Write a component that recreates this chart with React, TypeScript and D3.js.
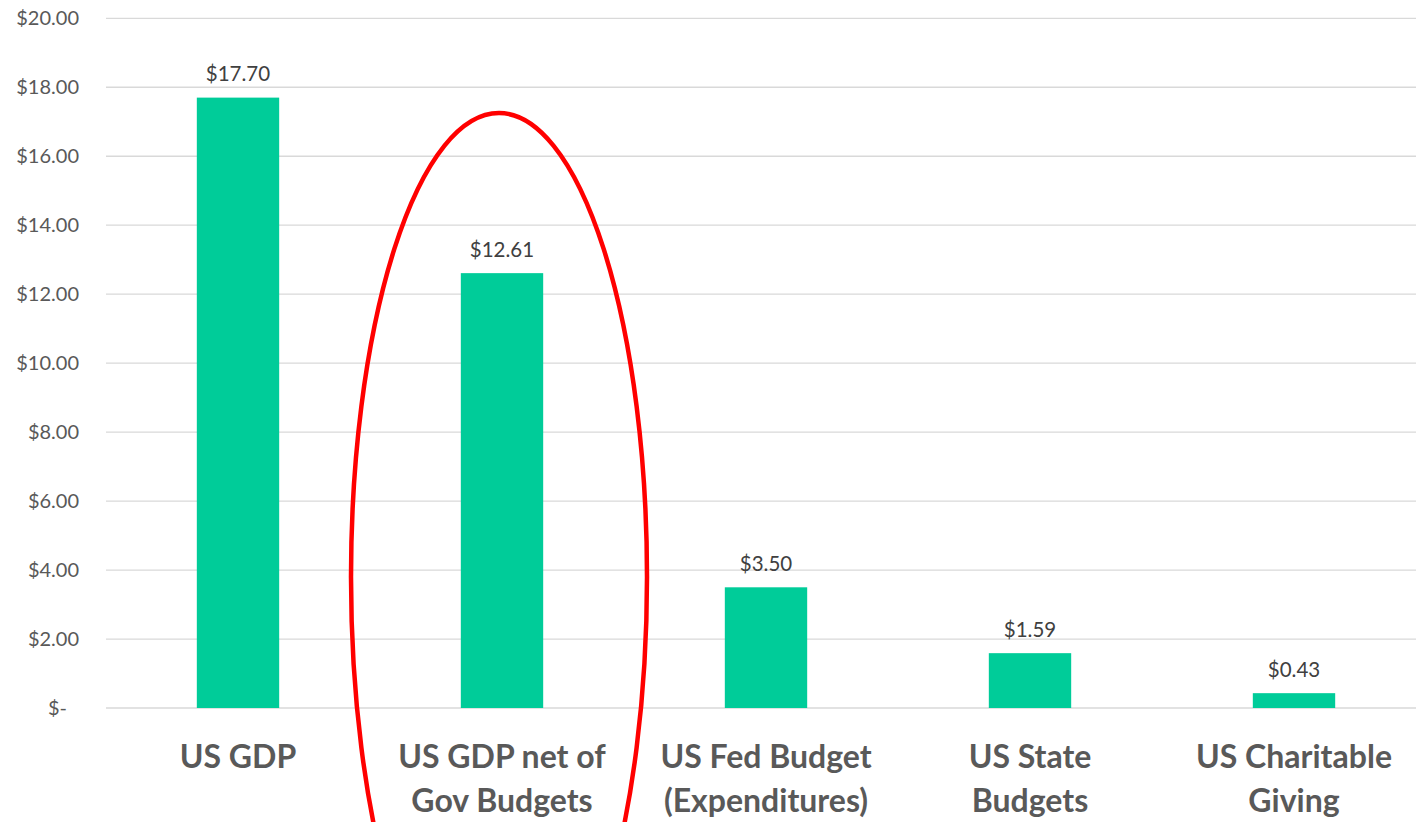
import React from "react";
import * as d3 from "d3";

const categories: string[][] = [
  ["US GDP"],
  ["US GDP net of", "Gov Budgets"],
  ["US Fed Budget", "(Expenditures)"],
  ["US State", "Budgets"],
  ["US Charitable", "Giving"],
];
const values: number[] = [17.7, 12.61, 3.5, 1.59, 0.43];
const yTicks: number[] = [0, 2, 4, 6, 8, 10, 12, 14, 16, 18, 20];
const highlightIndex = 1;

const W = 1416;
const H = 822;
const FONT = "Lato, Carlito, Calibri, 'Open Sans', sans-serif";

export default function App() {
  const keys = categories.map((_, i) => String(i));
  const x = d3
    .scaleBand<string>()
    .domain(keys)
    .range([106, 1426])
    .paddingInner(0.688)
    .paddingOuter(0.344);
  const y = d3.scaleLinear().domain([0, 20]).range([708, 18.3]);
  const fmt = (v: number) => (v === 0 ? "$-" : "$" + d3.format(",.2f")(v));

  const hx = (x(String(highlightIndex)) as number) + x.bandwidth() / 2;

  return (
    <svg
      width={W}
      height={H}
      style={{ position: "absolute", left: 0, top: 0, background: "#fff" }}
      fontFamily={FONT}
    >
      {yTicks.map((t) => (
        <line
          key={"g" + t}
          x1={106}
          x2={1426}
          y1={y(t)}
          y2={y(t)}
          stroke="#d9d9d9"
          strokeWidth={1.3}
        />
      ))}
      {yTicks.map((t) => (
        <text
          key={"t" + t}
          x={t === 0 ? 67 : 79}
          y={y(t)}
          dy="0.35em"
          textAnchor="end"
          fontSize={20}
          fill="#595959"
        >
          {fmt(t)}
        </text>
      ))}
      {values.map((v, i) => (
        <rect
          key={"b" + i}
          x={x(String(i))}
          y={y(v)}
          width={x.bandwidth()}
          height={y(0) - y(v)}
          fill="#00cc99"
        />
      ))}
      {values.map((v, i) => (
        <text
          key={"v" + i}
          x={(x(String(i)) as number) + x.bandwidth() / 2}
          y={y(v) - 16.5}
          textAnchor="middle"
          fontSize={20.5}
          fill="#404040"
        >
          {fmt(v)}
        </text>
      ))}
      {categories.map((lines, i) => (
        <text
          key={"c" + i}
          x={(x(String(i)) as number) + x.bandwidth() / 2}
          y={768}
          textAnchor="middle"
          fontSize={32}
          fontWeight="bold"
          fill="#595959"
        >
          {lines.map((l, j) => (
            <tspan
              key={j}
              x={(x(String(i)) as number) + x.bandwidth() / 2}
              dy={j === 0 ? 0 : 44}
            >
              {l}
            </tspan>
          ))}
        </text>
      ))}
      <ellipse
        cx={hx - 3}
        cy={577}
        rx={148}
        ry={464}
        fill="none"
        stroke="#ff0000"
        strokeWidth={4.5}
      />
    </svg>
  );
}
